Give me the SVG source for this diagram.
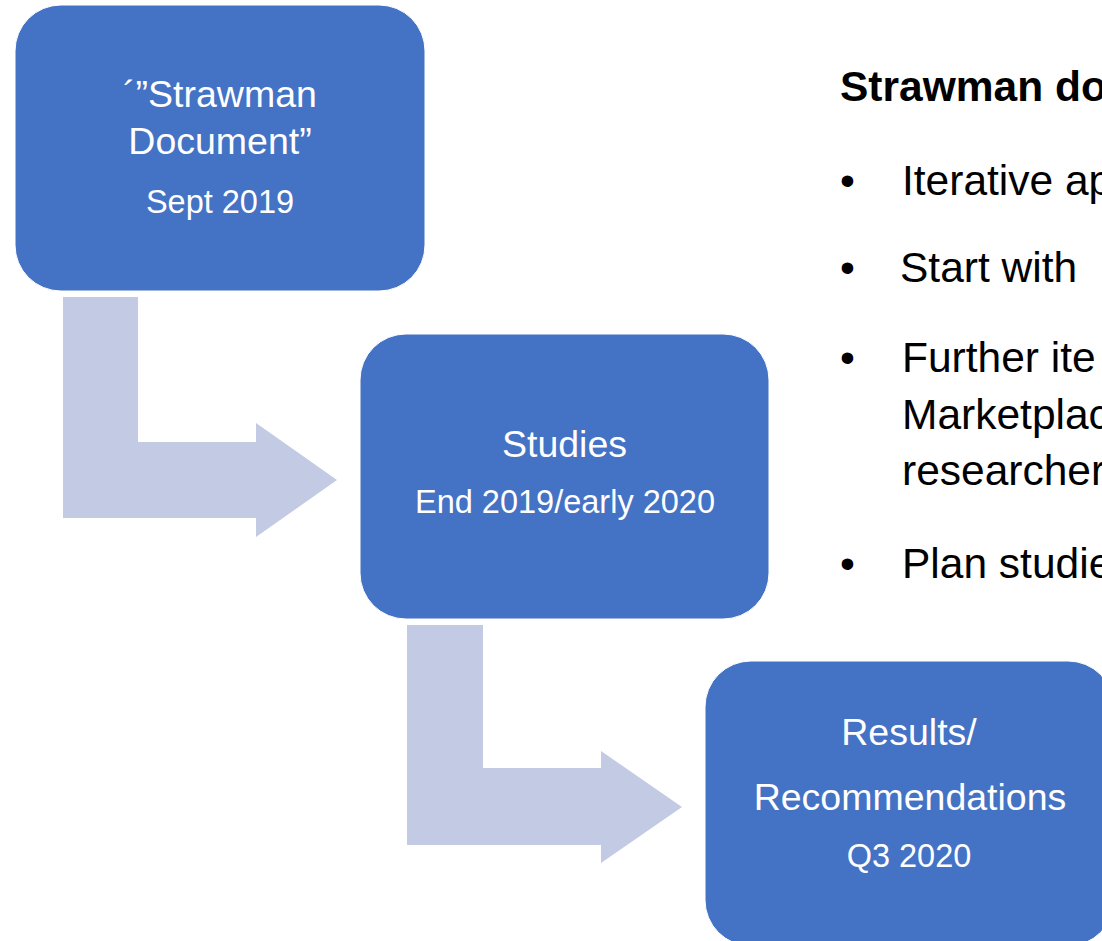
<svg xmlns="http://www.w3.org/2000/svg" width="1102" height="941" viewBox="0 0 1102 941">
  <style>
    .box { fill: #4472C4; stroke: #ffffff; stroke-width: 1; }
    .arrow { fill: #C3CAE4; }
    text { font-family: "Liberation Sans", Arial, sans-serif; }
    .t { fill: #ffffff; font-size: 37.5px; text-anchor: middle; }
    .s { fill: #ffffff; font-size: 32.5px; text-anchor: middle; }
    .h { fill: #000000; font-size: 42.5px; font-weight: bold; }
    .b { fill: #000000; font-size: 42.5px; }
  </style>
  <rect width="1102" height="941" fill="#ffffff"/>
  <g id="connectors">
    <polygon class="arrow" points="63,297 138,297 138,442 256,442 256,423 337,480 256,537 256,518 63,518"/>
    <polygon class="arrow" points="407,625 483,625 483,768 601,768 601,751 682,807 601,863 601,845 407,845"/>
  </g>
  <g id="node-strawman">
    <rect class="box" x="15" y="5" width="410" height="286" rx="46" ry="46"/>
    <text class="t" x="220" y="107">´”Strawman</text>
    <text class="t" x="220" y="154">Document”</text>
    <text class="s" x="220" y="213">Sept 2019</text>
  </g>
  <g id="node-studies">
    <rect class="box" x="360" y="334" width="409" height="285" rx="46" ry="46"/>
    <text class="t" x="564.5" y="457">Studies</text>
    <text class="s" x="565" y="513">End 2019/early 2020</text>
  </g>
  <g id="node-results">
    <rect class="box" x="705" y="661" width="409" height="285" rx="46" ry="46"/>
    <text class="t" x="909" y="745">Results/</text>
    <text class="t" x="910" y="810">Recommendations</text>
    <text class="s" x="909" y="867">Q3 2020</text>
  </g>
  <g id="notes">
    <text class="h" x="840" y="101">Strawman do</text>
    <text class="b" x="840" y="195">•</text>
    <text class="b" x="902" y="195">Iterative ap</text>
    <text class="b" x="840" y="282">•</text>
    <text class="b" x="900" y="282">Start with</text>
    <text class="b" x="840" y="372">•</text>
    <text class="b" x="902" y="372">Further ite</text>
    <text class="b" x="902" y="429">Marketplac</text>
    <text class="b" x="902" y="485">researcher</text>
    <text class="b" x="840" y="578">•</text>
    <text class="b" x="902" y="578">Plan studie</text>
  </g>
</svg>
